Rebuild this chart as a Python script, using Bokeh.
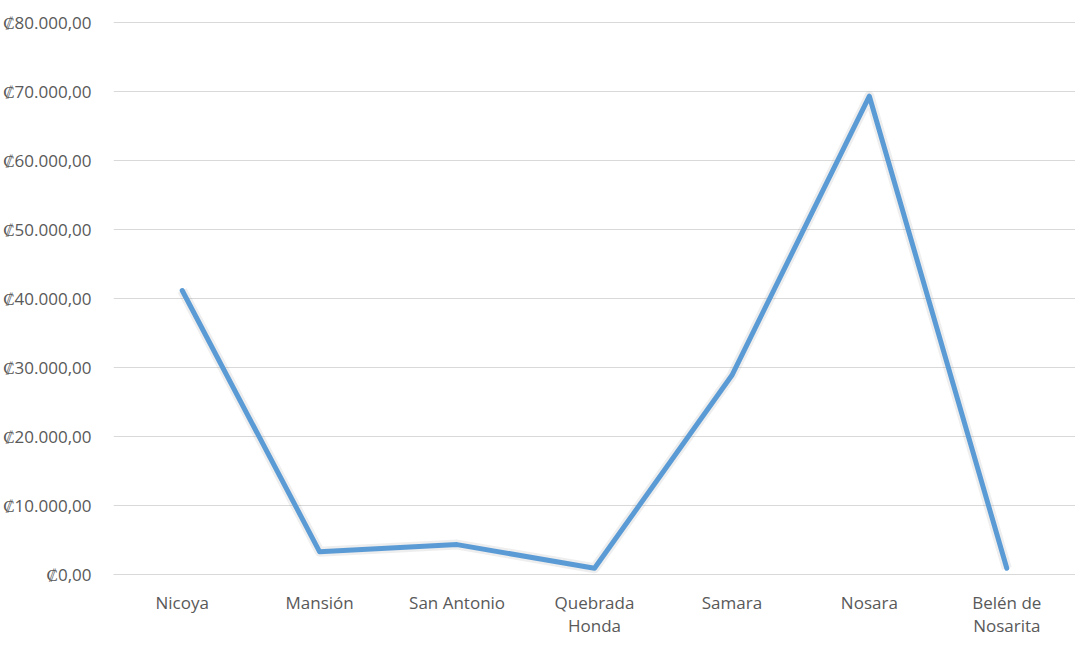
from bokeh.plotting import figure
from bokeh.models import FactorRange, Range1d, FixedTicker
from bokeh.embed import file_html
from bokeh.resources import INLINE

categories = ["Nicoya", "Mansión", "San Antonio", "Quebrada\nHonda", "Samara", "Nosara", "Belén de\nNosarita"]
values = [41140, 3290, 4330, 900, 28860, 69290, 900]
tick_values = [0, 10000, 20000, 30000, 40000, 50000, 60000, 70000, 80000]
tick_labels = ["₡0,00", "₡10.000,00", "₡20.000,00", "₡30.000,00", "₡40.000,00",
               "₡50.000,00", "₡60.000,00", "₡70.000,00", "₡80.000,00"]

FONT = "Open Sans"
TXT = "#595959"

p = figure(width=1075, height=639, output_backend="svg", toolbar_location=None,
           x_range=FactorRange(*categories, range_padding=0),
           y_range=Range1d(0, 80400))
p.min_border_top = 19
p.min_border_right = 0
p.min_border_left = 0
p.min_border_bottom = 0
p.outline_line_color = None
p.background_fill_color = "white"

# soft shadow
p.line(categories, values, line_color="#7f7f7f", line_alpha=0.13, line_width=10, line_join="round")
p.line(categories, values, line_color="#5B9BD5", line_width=5, line_join="round", line_cap="round")

p.xgrid.grid_line_color = None
p.ygrid.grid_line_color = "#D9D9D9"
p.ygrid.grid_line_width = 1
p.yaxis.ticker = FixedTicker(ticks=tick_values)
p.yaxis.major_label_overrides = {v: l for v, l in zip(tick_values, tick_labels)}
p.yaxis.axis_line_color = None
p.yaxis.major_tick_line_color = None
p.yaxis.minor_tick_line_color = None
p.yaxis.major_label_standoff = 16

p.xaxis.axis_line_color = "#D9D9D9"
p.xaxis.major_tick_line_color = None
p.xaxis.minor_tick_line_color = None
p.xaxis.major_label_standoff = 10
p.xaxis.major_label_text_line_height = 1.0

for ax in (p.xaxis, p.yaxis):
    ax.major_label_text_font = FONT
    ax.major_label_text_font_size = "17px"
    ax.major_label_text_color = TXT

open("out.html", "w").write(file_html(p, INLINE))
